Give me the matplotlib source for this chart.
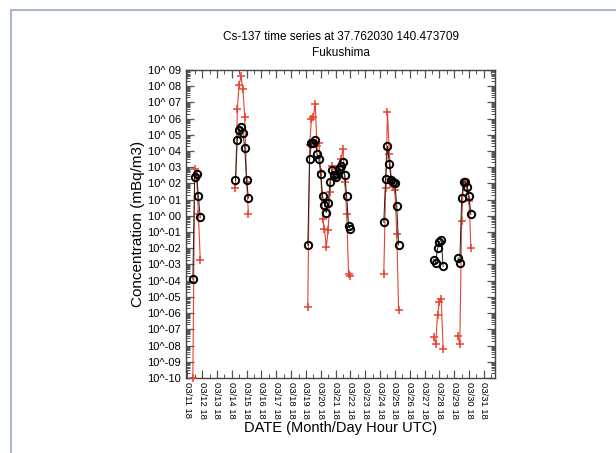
import matplotlib
matplotlib.use('Agg')
import matplotlib.pyplot as plt
import matplotlib.dates as mdates
from matplotlib.ticker import LogLocator, FixedLocator, FuncFormatter, NullFormatter
from matplotlib.lines import Line2D
import numpy as np
import pandas as pd

plt.rcParams['font.family'] = ['Liberation Sans', 'DejaVu Sans']

# 3-hourly bursts: start time of each burst
burst_starts = ['2011-03-12 03:00', '2011-03-15 00:00', '2011-03-19 21:00',
                '2011-03-25 00:00', '2011-03-28 09:00', '2011-03-30 00:00']

# log10 of concentration (mBq/m3), red '+' series
red_log = [
    [-10.0, 2.9, 2.5, 0.1, -2.7],
    [1.7, 6.6, 8.1, 8.6, 7.8, 6.1, 2.1, 0.1],
    [-5.6, 4.4, 6.0, 6.1, 6.9, 4.3, 4.5, 2.7, -0.2, -0.8, -1.9, -0.9,
     1.5, 3.1, 2.4, 2.4, 2.9, 3.1, 3.5, 4.1, 2.1, 0.1, -3.6, -3.7],
    [-3.6, 1.7, 6.4, 3.8, 2.3, 1.8, 1.6, -1.1, -5.8],
    [-7.5, -7.9, -6.1, -5.3, -5.1, -8.2],
    [-7.4, -7.9, -0.3, 2.0, 2.1, 1.6, 0.9, -2.0],
]

# log10 of concentration (mBq/m3), black 'o' series
black_log = [
    [-3.9, 2.4, 2.6, 1.2, -0.1],
    [2.2, 4.7, 5.3, 5.5, 5.1, 4.2, 2.2, 1.1],
    [-1.8, 3.5, 4.5, 4.5, 4.7, 3.8, 3.5, 2.6, 1.2, 0.7, 0.2, 0.8,
     2.1, 2.8, 2.5, 2.4, 2.6, 2.9, 3.1, 3.3, 2.5, 1.2, -0.6, -0.8],
    [-0.4, 2.3, 4.3, 3.2, 2.2, 2.1, 2.0, 0.6, -1.8],
    [-2.7, -2.9, -2.0, -1.6, -1.5, -3.1],
    [-2.6, -2.9, 1.1, 2.1, 2.1, 1.8, 1.2, 0.1],
]

fig = plt.figure(figsize=(6.16, 4.53), dpi=100)
ax = fig.add_axes([0.302, 0.1656, 0.5016, 0.68])

for start, r, b in zip(burst_starts, red_log, black_log):
    t = pd.date_range(start, periods=len(r), freq='3h')
    ax.plot(t, 10.0 ** np.array(r), color='#e8432e', lw=0.8, marker='+',
            ms=6, mew=1.1, clip_on=False, zorder=3)
    ax.plot(t, 10.0 ** np.array(b), color='#222222', lw=0.7, marker='o',
            ms=5.3, mfc='none', mec='black', mew=1.4, clip_on=False, zorder=4)

ax.set_yscale('log')
ax.set_ylim(1e-10, 1e9)
ax.yaxis.set_major_locator(FixedLocator([10.0 ** k for k in range(-10, 10)]))
ax.yaxis.set_minor_locator(LogLocator(base=10, subs=np.arange(2, 10), numticks=30))
ax.yaxis.set_minor_formatter(NullFormatter())


def ylab(v, pos):
    e = int(round(np.log10(v)))
    return '10^' + ('-' if e < 0 else ' ') + '%02d' % abs(e)


ax.yaxis.set_major_formatter(FuncFormatter(ylab))

ax.set_xlim(pd.Timestamp('2011-03-11 16:00'), pd.Timestamp('2011-04-01 12:00'))
ax.xaxis.set_major_locator(mdates.HourLocator(byhour=[18]))
ax.xaxis.set_minor_locator(mdates.HourLocator(byhour=[6]))
ax.xaxis.set_major_formatter(mdates.DateFormatter('%m/%d %H'))
for lbl in ax.get_xticklabels():
    lbl.set_rotation(270)

ax.tick_params(which='both', direction='in', top=True, right=True, color='#555555')
ax.tick_params(which='major', length=6, width=0.9, labelsize=8)
ax.tick_params(which='minor', length=3, width=0.7)
ax.tick_params(axis='x', which='major', labelsize=6.8, pad=3)
for s in ax.spines.values():
    s.set_color('#444444')
    s.set_linewidth(1.0)

ax.set_title('Cs-137 time series at 37.762030 140.473709\nFukushima',
             fontsize=8.5, pad=10, linespacing=1.4)
ax.set_ylabel('Concentration (mBq/m3)', fontsize=11, labelpad=2)
ax.set_xlabel('DATE (Month/Day Hour UTC)', fontsize=10.5, labelpad=1)

# light page frame
fig.add_artist(Line2D([11 / 616, 1], [1 - 10 / 453, 1 - 10 / 453],
                      transform=fig.transFigure, color='#a9b8cf', lw=1.5))
fig.add_artist(Line2D([11 / 616, 11 / 616], [0, 1 - 10 / 453],
                      transform=fig.transFigure, color='#a9b8cf', lw=1.5))

fig.savefig('out.png', dpi=100)
